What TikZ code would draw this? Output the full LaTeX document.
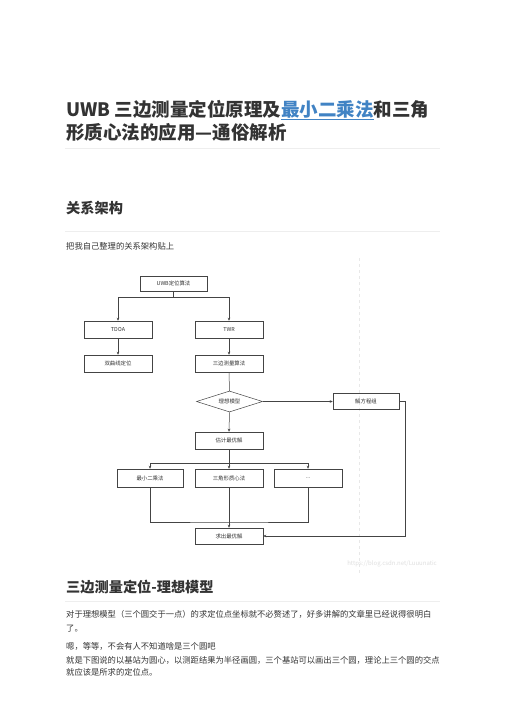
\documentclass[tikz,border=0pt]{standalone}
\usepackage{fontspec}
\setmainfont{Noto Sans CJK SC}
\usetikzlibrary{shapes.geometric,arrows.meta}
\definecolor{txt}{HTML}{333333}
\definecolor{linkblue}{HTML}{4183C4}
\definecolor{rulec}{HTML}{EEEEEE}
\definecolor{fcline}{HTML}{444444}
\begin{document}
\begin{tikzpicture}[x=1pt,y=-1pt,
  box/.style={draw=fcline,line width=0.5pt,minimum width=68pt,minimum height=17pt,inner sep=0pt,font=\fontsize{5.4}{6}\selectfont,text=txt},
  dia/.style={diamond,draw=fcline,line width=0.5pt,minimum width=66pt,minimum height=21pt,inner sep=0pt,aspect=3,font=\fontsize{5.4}{6}\selectfont,text=txt},
  conn/.style={draw=fcline,line width=0.5pt},
  arr/.style={conn,-{Stealth[length=3pt,width=2.6pt]}},
  sepline/.style={draw=rulec,line width=0.6pt},
  title/.style={anchor=west,inner sep=0pt,text=txt,font=\fontsize{18.5}{20}\selectfont\bfseries},
  head/.style={anchor=west,inner sep=0pt,text=txt,font=\fontsize{14.2}{16}\selectfont\bfseries},
  body/.style={anchor=west,inner sep=0pt,text=txt,font=\fontsize{8.3}{10}\selectfont}]
\useasboundingbox (0,0) rectangle (504,713);
\fill[white] (0,0) rectangle (504,713);

% title
\node[title] (t1) at (66,110) {UWB 三边测量定位原理及\textcolor{linkblue}{\underline{最小二乘法}}和三角};
\node[title] (t2) at (66,132) {形质心法的应用—通俗解析};
\draw[sepline] (65,148) -- (440,148);

\node[head] (h1) at (66,208) {关系架构};
\draw[sepline] (65,231) -- (440,231);
\node[body] (intro) at (66,246) {把我自己整理的关系架构贴上};

% image region
\draw[gray!18,dashed,line width=0.5pt] (359,258) -- (359,573);
\node[anchor=east,inner sep=0pt,text=gray!25,font=\fontsize{6}{7}\selectfont] (wm) at (437,564) {https://blog.csdn.net/Luuunatic};

% flowchart
\node[box,minimum width=67pt,minimum height=15pt] (uwb) at (173.5,283.5) {UWB定位算法};
\node[box] (tdoa) at (118,329.5) {TDOA};
\node[box] (twr) at (229,329.5) {TWR};
\node[box] (hyp) at (118,363.5) {双曲线定位};
\node[box] (tri) at (229,363.5) {三边测量算法};
\node[dia] (ideal) at (229.5,401.5) {理想模型};
\node[box,minimum width=66pt,minimum height=16pt] (solve) at (366,401.5) {解方程组};
\node[box] (est) at (229,440.5) {估计最优解};
\node[box,minimum width=66pt,minimum height=18pt] (ls) at (150,478) {最小二乘法};
\node[box,minimum height=18pt] (cen) at (229,478) {三角形质心法};
\node[box,minimum height=18pt] (dots) at (308,478) {...};
\node[box,minimum height=16pt] (res) at (229,536) {求出最优解};

\coordinate (b1) at (173.5,297.3);
\draw[conn] (uwb.south) -- (b1);
\draw[arr] (b1) -| (tdoa.north);
\draw[arr] (b1) -| (twr.north);
\draw[arr] (tdoa) -- (hyp);
\draw[arr] (twr) -- (tri);
\draw[conn] (tri.south) -- (ideal.north);
\draw[arr] (ideal.east) -- (solve.west);
\draw[arr] (ideal.south) -- (est.north);

\coordinate (b2) at (229,463);
\draw[conn] (est.south) -- (b2);
\draw[arr] (b2) -| (ls.north);
\draw[arr] (b2) -- (cen.north);
\draw[arr] (b2) -| (dots.north);

\coordinate (b3) at (229,522);
\draw[conn] (ls.south) |- (b3) -| (dots.south);
\draw[arr] (cen.south) -- (res.north);
\coordinate (r1) at (405,401.5);
\draw[arr] (solve.east) -- (r1) |- (res.east);

% section
\node[head] (h2) at (66,587) {三边测量定位-理想模型};
\draw[sepline] (65,601) -- (440,601);
\node[body] (p1) at (66,614) {对于理想模型（三个圆交于一点）的求定位点坐标就不必赘述了，好多讲解的文章里已经说得很明白};
\node[body] (p2) at (66,629) {了。};
\node[body] (p3) at (66,646) {嗯，等等，不会有人不知道啥是三个圆吧};
\node[body] (p4) at (66,660) {就是下图说的以基站为圆心，以测距结果为半径画圆，三个基站可以画出三个圆，理论上三个圆的交点};
\node[body] (p5) at (66,672) {就应该是所求的定位点。};
\end{tikzpicture}
\end{document}
